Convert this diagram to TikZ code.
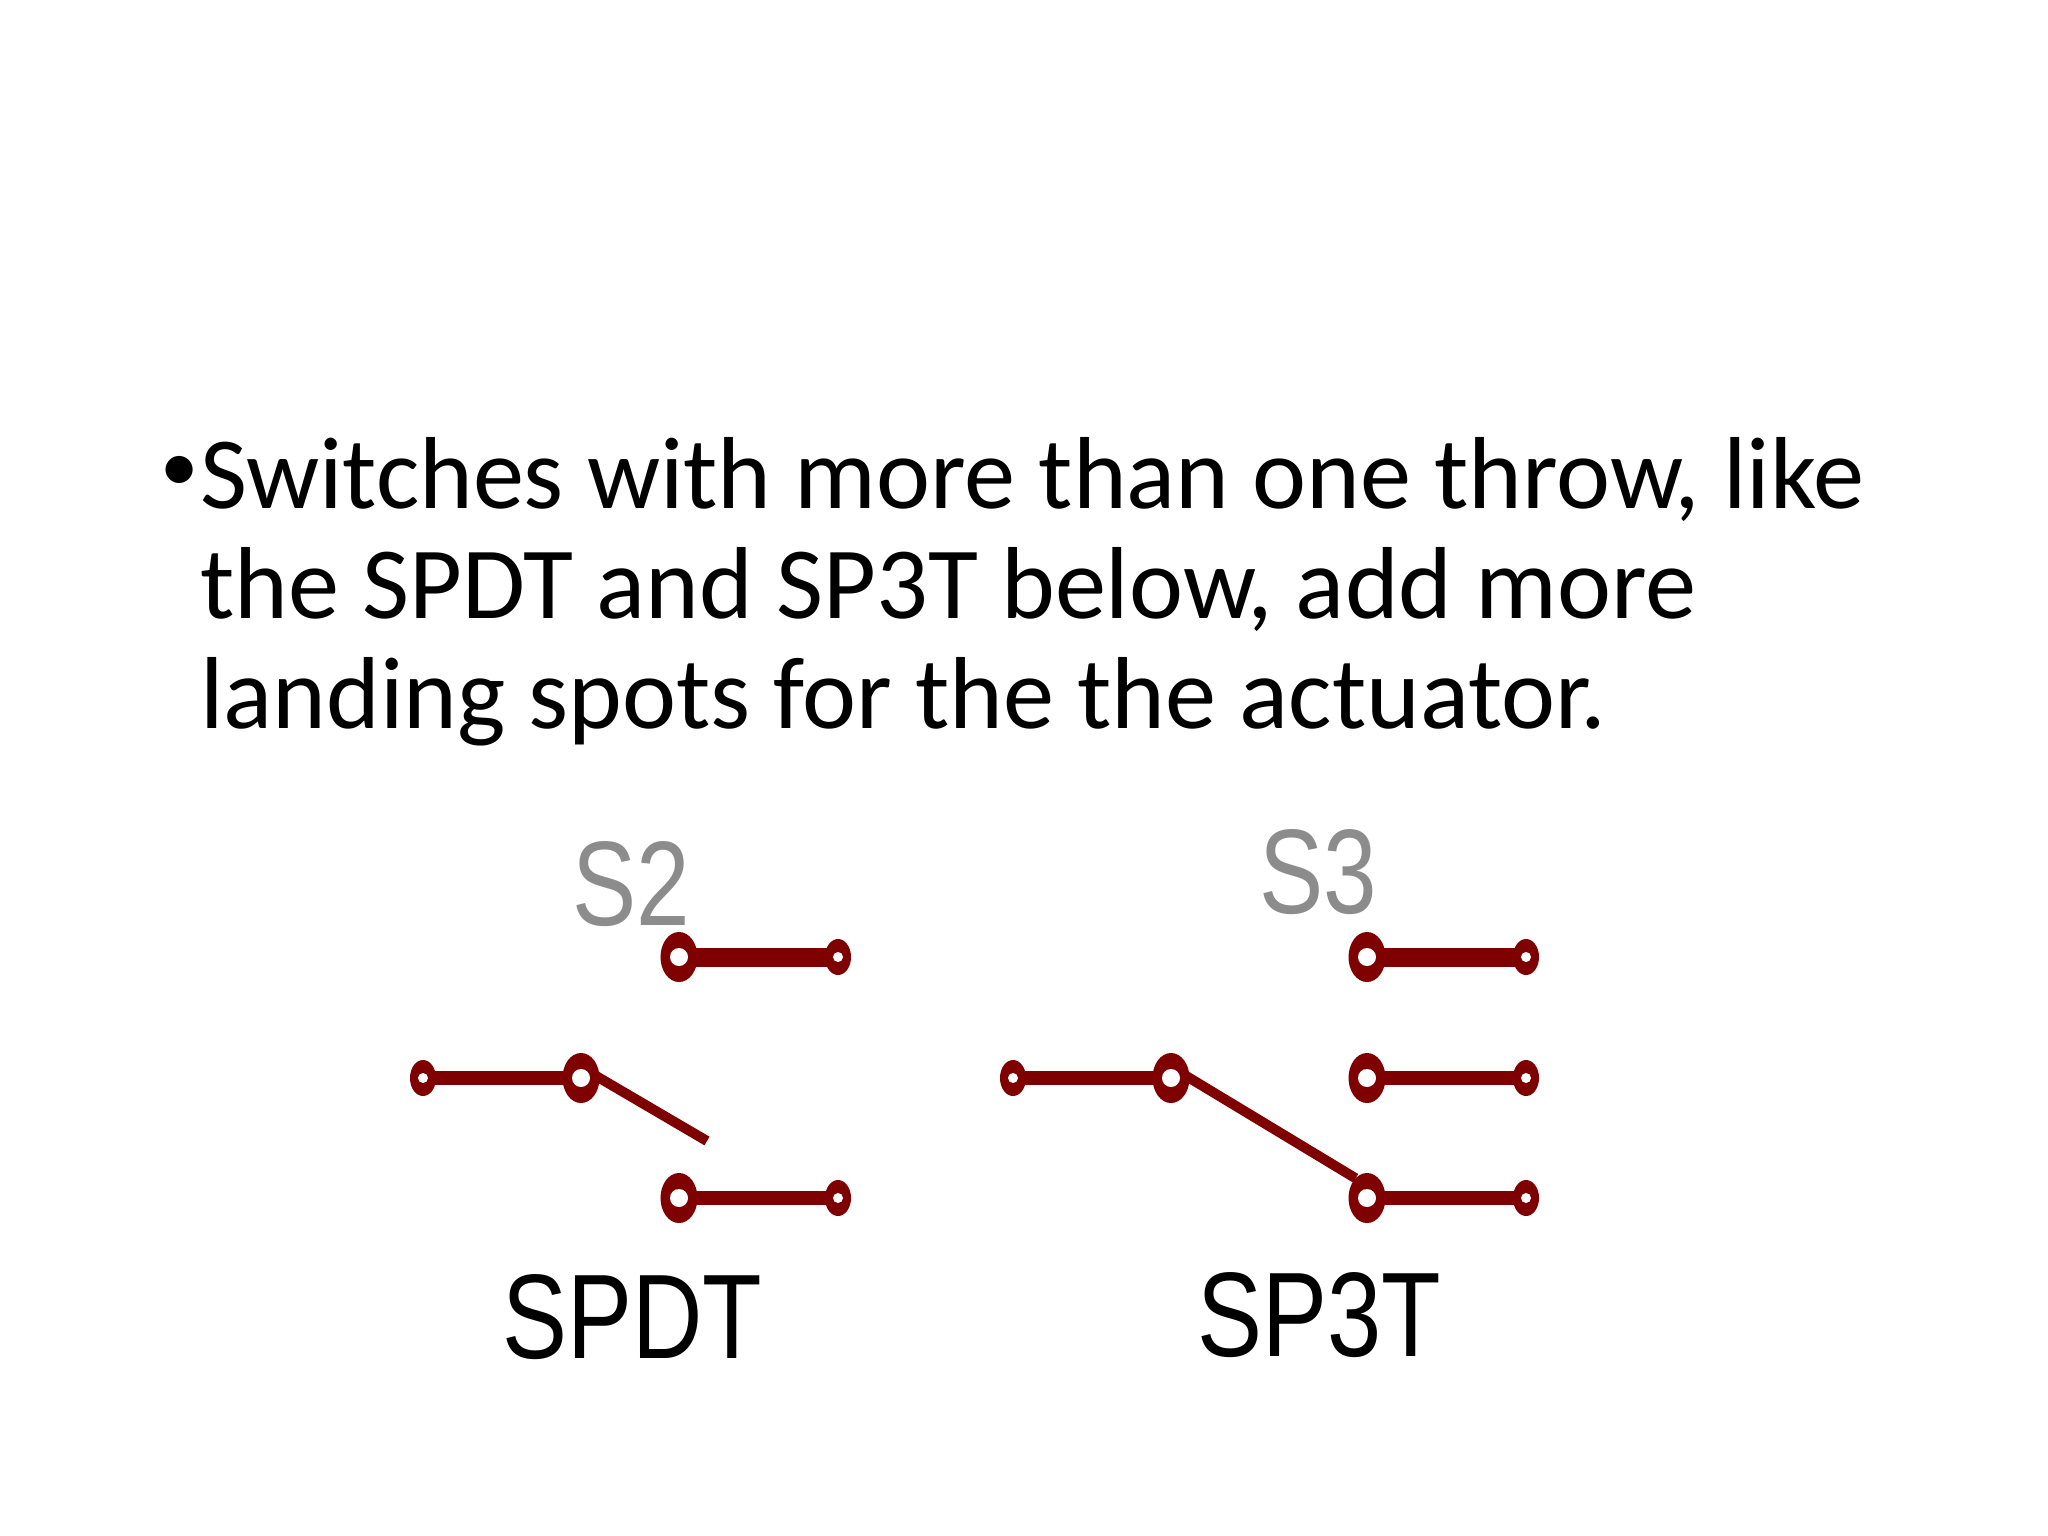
\documentclass[tikz,border=0pt]{standalone}
\usepackage{fontspec}
\setmainfont{Carlito}
\newfontfamily\labelfont{Liberation Sans}
\usepackage{tikz}
\usetikzlibrary{shapes.geometric}
\usetikzlibrary{positioning}
\definecolor{wirered}{HTML}{7F0000}
\definecolor{tagray}{HTML}{8C8C8C}

\begin{document}
\begin{tikzpicture}
[
x=0.01cm, y=-0.01cm,
                    body/.style    ={inner sep=0pt, align=left, font=\fontsize{29.1}{31.3}\selectfont},
                    pad/.style     ={ellipse, fill=wirered, inner sep=0pt, outer sep=0pt},
                    bigpad/.style  ={pad, minimum width=.37cm, minimum height=.50cm, path picture={\fill[white] (path picture bounding box.center) circle (.09cm);}},
                    smallpad/.style={pad, minimum width=.26cm, minimum height=.36cm, path picture={\fill[white] (path picture bounding box.center) circle (.05cm);}},
                    tag/.style     ={inner sep=0pt, anchor=base, text=tagray, xscale=.8, transform shape, font=\labelfont\fontsize{34.2}{34.2}\selectfont},
                    title/.style   ={inner sep=0pt, anchor=base, text=black, xscale=.81, transform shape, font=\labelfont\fontsize{34.2}{34.2}\selectfont},
                    heavy/.style   ={draw=wirered, line width=.19cm, shorten <=-.05cm, shorten >=-.05cm},
                    wire/.style    ={draw=wirered, line width=.14cm, shorten <=-.05cm, shorten >=-.05cm},
                    arm/.style     ={draw=wirered, line width=.10cm, shorten <=-.06cm}]

\useasboundingbox (0,0) rectangle (2048,1536);

\node[body, anchor=base, font=\fontsize{21.8}{26}\selectfont] (dot) at (180,491) {•};
\node[body, anchor=north west] (text) at (199.5,437) {Switches with more than one throw, like\\the SPDT and SP3T below, add more\\landing spots for the the actuator.};

\node[tag] (s2) at (631,925) {S2};
\node[title] (spdt) at (632,1358) {SPDT};

\node[bigpad] (s2top) at (679,957) {};
\node[smallpad] (s2topend) at (838,957) {};
\node[bigpad] (s2com) at (581,1078) {};
\node[smallpad] (s2in) at (423,1078) {};
\node[bigpad] (s2low) at (679,1198) {};
\node[smallpad] (s2lowend) at (838,1198) {};
\coordinate (s2tip) at (707,1141);

\path[heavy] (s2top) -- (s2topend);
\path[wire] (s2in) -- (s2com);
\path[arm] (s2com.east) -- (s2tip);
\path[wire] (s2low) -- (s2lowend);

\node[tag] (s3) at (1318,913) {S3};
\node[title] (sp3t) at (1319,1356) {SP3T};

\node[bigpad] (s3top) at (1367,957) {};
\node[smallpad] (s3topend) at (1526,957) {};
\node[bigpad] (s3mid) at (1367,1078) {};
\node[smallpad] (s3midend) at (1526,1078) {};
\node[bigpad] (s3low) at (1367,1198) {};
\node[smallpad] (s3lowend) at (1526,1198) {};
\node[bigpad] (s3com) at (1171,1078) {};
\node[smallpad] (s3in) at (1013,1078) {};

\path[heavy] (s3top) -- (s3topend);
\path[wire] (s3mid) -- (s3midend);
\path[wire] (s3low) -- (s3lowend);
\path[wire] (s3in) -- (s3com);
\path[arm] (s3com.east) -- (s3low.120);
\end{tikzpicture}
\end{document}
